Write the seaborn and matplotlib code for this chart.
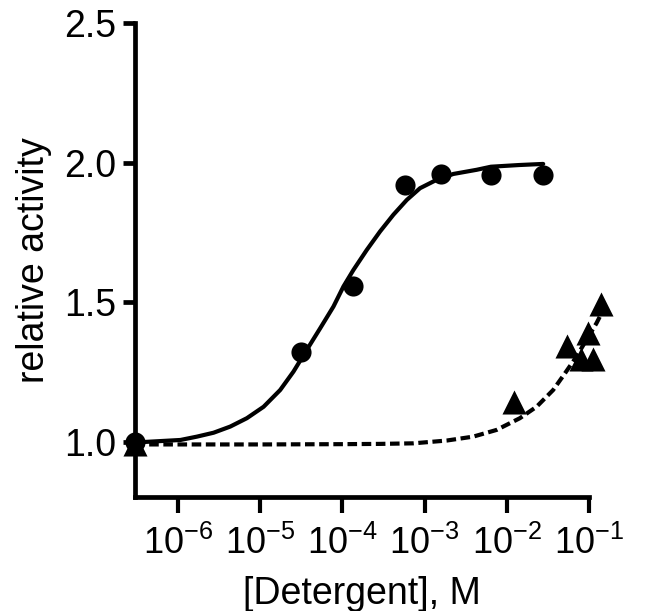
"""Actividad relativa frente a concentración de detergente (escala log)."""

import matplotlib

matplotlib.use("Agg")
import matplotlib.pyplot as plt
import pandas as pd
import seaborn as sns


# Puntos medidos, detergente 1 (círculos)
CIRC_X = [3.0e-7, 3.1e-5, 1.34e-4, 5.7e-4, 1.57e-3, 6.4e-3, 2.77e-2]
CIRC_Y = [1.0, 1.32, 1.557, 1.921, 1.96, 1.954, 1.954]

# Puntos medidos, detergente 2 (triángulos)
TRI_X = [3.0e-7, 1.23e-2, 5.4e-2, 7.9e-2, 9.75e-2, 1.12e-1, 1.39e-1]
TRI_Y = [0.99, 1.143, 1.343, 1.295, 1.391, 1.295, 1.494]

# Curva ajustada (línea continua)
FIT1_X = [3.0e-7, 1.07e-6, 1.70e-6, 2.71e-6, 4.32e-6, 6.88e-6, 1.10e-5,
          1.75e-5, 2.54e-5, 3.69e-5, 5.36e-5, 7.78e-5, 1.03e-4, 1.36e-4,
          1.98e-4, 2.87e-4, 4.17e-4, 6.07e-4, 8.79e-4, 1.40e-3, 2.23e-3,
          4.30e-3, 6.41e-3, 1.4e-2, 2.77e-2]
FIT1_Y = [0.997, 1.006, 1.018, 1.032, 1.054, 1.084, 1.125,
          1.185, 1.251, 1.329, 1.406, 1.484, 1.556, 1.615,
          1.687, 1.753, 1.813, 1.866, 1.908, 1.938, 1.959,
          1.974, 1.985, 1.991, 1.995]

# Curva ajustada (línea discontinua)
FIT2_X = [3.0e-7, 1.0e-5, 1.0e-4, 2.9e-4, 7.3e-4, 1.86e-3, 3.9e-3, 7.5e-3,
          1.44e-2, 2.3e-2, 3.66e-2, 5.1e-2, 7.05e-2, 9.3e-2, 1.23e-1, 1.42e-1]
FIT2_Y = [0.990, 0.990, 0.991, 0.992, 0.994, 1.004, 1.018, 1.042,
          1.084, 1.125, 1.185, 1.245, 1.305, 1.365, 1.424, 1.46]

XTICKS = [1e-6, 1e-5, 1e-4, 1e-3, 1e-2, 1e-1]
XTICK_LABELS = [r"$10^{-6}$", r"$10^{-5}$", r"$10^{-4}$",
                r"$10^{-3}$", r"$10^{-2}$", r"$10^{-1}$"]
YTICKS = [1.0, 1.5, 2.0, 2.5]
YTICK_LABELS = ["1.0", "1.5", "2.0", "2.5"]


sns.set_theme(style="ticks")
plt.rcParams["font.family"] = ["Liberation Sans", "DejaVu Sans"]
plt.rcParams["mathtext.fontset"] = "custom"
plt.rcParams["mathtext.rm"] = "Liberation Sans"
plt.rcParams["mathtext.it"] = "Liberation Sans"
plt.rcParams["axes.unicode_minus"] = False

fit1 = pd.DataFrame({"x": FIT1_X, "y": FIT1_Y})
fit2 = pd.DataFrame({"x": FIT2_X, "y": FIT2_Y})
circ = pd.DataFrame({"x": CIRC_X, "y": CIRC_Y})
tri = pd.DataFrame({"x": TRI_X, "y": TRI_Y})

fig = plt.figure(figsize=(6.5, 6.11), dpi=100)
ax = fig.add_axes([0.2077, 0.1858, 0.6985, 0.7766])
ax.set_xscale("log")

sns.lineplot(data=fit1, x="x", y="y", ax=ax, color="black", lw=3,
             estimator=None, sort=False, clip_on=False)
sns.lineplot(data=fit2, x="x", y="y", ax=ax, color="black", lw=3,
             estimator=None, sort=False, clip_on=False)
ax.lines[0].set_solid_joinstyle("round")
ax.lines[1].set_dashes((2.3, 1.1))
ax.lines[1].set_dash_capstyle("butt")

sns.scatterplot(data=tri, x="x", y="y", ax=ax, marker="^", s=300,
                color="black", linewidth=0, clip_on=False, zorder=3)
sns.scatterplot(data=circ, x="x", y="y", ax=ax, marker="o", s=210,
                color="black", linewidth=0, clip_on=False, zorder=4)

ax.set_xlim(3e-7, 1e-1)
ax.set_ylim(0.8, 2.5)
ax.set_xticks(XTICKS)
ax.set_xticklabels(XTICK_LABELS)
ax.set_yticks(YTICKS)
ax.set_yticklabels(YTICK_LABELS)

sns.despine(ax=ax)
for lado in ("left", "bottom"):
    ax.spines[lado].set_linewidth(3.4)
    ax.spines[lado].set_color("black")

ax.tick_params(axis="x", which="major", length=11.5, width=3, color="black",
               labelsize=26, pad=9, labelcolor="black")
ax.tick_params(axis="x", which="minor", length=6.5, width=2.2, color="black")
ax.tick_params(axis="y", which="major", length=8.5, width=3.4, color="black",
               labelsize=27, pad=5, labelcolor="black")

ax.set_xlabel("[Detergent], M", fontsize=27, color="black", labelpad=10)
ax.set_ylabel("relative activity", fontsize=27, color="black", labelpad=9)

fig.savefig("out.png", dpi=100, facecolor="white")
